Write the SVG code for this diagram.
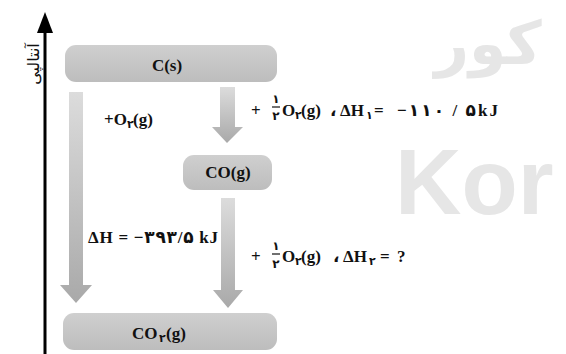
<svg xmlns="http://www.w3.org/2000/svg" width="566" height="354" viewBox="0 0 566 354">
<defs>
<linearGradient id="ag" x1="0" y1="0" x2="0" y2="1">
<stop offset="0" stop-color="#dcdcdc"/>
<stop offset="1" stop-color="#a9a9a9"/>
</linearGradient>
<linearGradient id="bg" x1="0" y1="0" x2="0" y2="1">
<stop offset="0" stop-color="#cfcfcf"/>
<stop offset="1" stop-color="#bdbdbd"/>
</linearGradient>
</defs>
<style>
.box{fill:url(#bg)}
.arr{fill:url(#ag)}
.t{font-family:"Liberation Serif","DejaVu Serif","DejaVu Sans",serif;font-weight:bold;font-size:17px;fill:#111}
.s{font-family:"DejaVu Sans",sans-serif;font-weight:bold;font-size:11px;fill:#111}
.f{font-family:"DejaVu Sans",sans-serif;font-weight:bold;font-size:12px;fill:#111}
.wm{font-family:"Liberation Sans","DejaVu Sans",sans-serif;font-weight:bold;fill:#e6e6e6}
</style>
<rect width="566" height="354" fill="#fff"/>
<g id="watermark">
<text class="wm" x="395" y="214" font-size="92">Kor</text>
<text class="wm" x="488" y="64" font-size="60" font-weight="normal" text-anchor="middle" font-family="DejaVu Sans,sans-serif">کور</text>
</g>
<g id="axis">
<line x1="45" y1="30" x2="45" y2="354" stroke="#000" stroke-width="3"/>
<polygon points="45,12 37,33 53,33" fill="#000"/>
<text x="33" y="64" transform="rotate(-90 33 64)" text-anchor="middle" dominant-baseline="central" font-family="DejaVu Sans,sans-serif" font-size="16" fill="#111">آنتالپی</text>
</g>
<g id="connectors">
<polygon class="arr" points="69,92 83,92 83,285 92,285 76,303 60,285 69,285"/>
<polygon class="arr" points="220,87 235,87 235,127 243,127 227,143 212,127 220,127"/>
<polygon class="arr" points="221,198 235,198 235,290 243,290 228,308 213,290 221,290"/>
</g>
<g id="node-cs">
<rect class="box" x="65" y="45" width="212" height="37" rx="11"/>
<text class="t" x="167" y="71" text-anchor="middle">C(s)</text>
</g>
<g id="node-co">
<rect class="box" x="183" y="155" width="89" height="35" rx="11"/>
<text class="t" x="228" y="178" text-anchor="middle">CO(g)</text>
</g>
<g id="node-co2">
<rect class="box" x="63" y="313" width="214" height="37" rx="11"/>
<text class="t" x="132" y="339">CO</text>
<text class="s" x="159" y="342">۲</text>
<text class="t" x="166" y="339">(g)</text>
</g>
<g id="label-o2">
<text class="t" x="104" y="125">+O</text>
<text class="s" x="127" y="128">۲</text>
<text class="t" x="133" y="125">(g)</text>
</g>
<g id="label-dh1">
<text class="t" x="251" y="116">+</text>
<text class="f" x="276" y="103" text-anchor="middle">۱</text>
<line x1="272" y1="107" x2="280" y2="107" stroke="#111" stroke-width="1.2"/>
<text class="f" x="276" y="120" text-anchor="middle">۲</text>
<text class="t" x="282" y="116">O</text>
<text class="s" x="295" y="119">۲</text>
<text class="t" x="301" y="116">(g)</text>
<text class="t" x="330" y="116">،</text>
<text class="t" x="340" y="116">ΔH</text>
<text class="s" x="366" y="119">۱</text>
<text class="t" x="374" y="116">=</text>
<text class="t" x="397" y="116" textLength="101" lengthAdjust="spacing">−۱۱۰ / ۵kJ</text>
</g>
<g id="label-dh">
<text class="t" x="88" y="243" textLength="130" lengthAdjust="spacing">ΔH = −۳۹۳/۵ kJ</text>
</g>
<g id="label-dh2">
<text class="t" x="251" y="262">+</text>
<text class="f" x="276" y="250" text-anchor="middle">۱</text>
<line x1="272" y1="254" x2="280" y2="254" stroke="#111" stroke-width="1.2"/>
<text class="f" x="276" y="268" text-anchor="middle">۲</text>
<text class="t" x="282" y="262">O</text>
<text class="s" x="295" y="265">۲</text>
<text class="t" x="301" y="262">(g)</text>
<text class="t" x="333" y="262">،</text>
<text class="t" x="343" y="262">ΔH</text>
<text class="s" x="369" y="265">۲</text>
<text class="t" x="380" y="262">=</text>
<text class="t" x="397" y="262">?</text>
</g>
</svg>
